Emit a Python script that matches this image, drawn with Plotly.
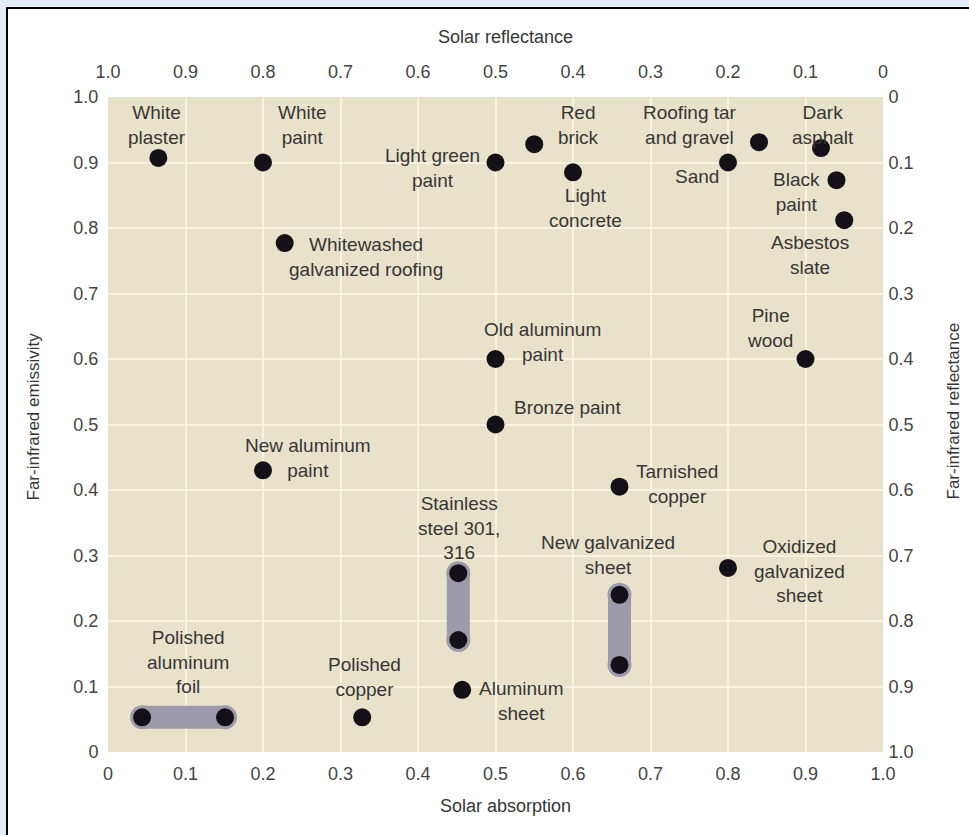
import plotly.graph_objects as go

# ---- data ----
materials = ["White plaster", "White paint", "Whitewashed galvanized roofing", "Light green paint",
             "Red brick", "Light concrete", "Sand", "Roofing tar and gravel", "Dark asphalt",
             "Black paint", "Asbestos slate", "Pine wood", "Old aluminum paint", "Bronze paint",
             "New aluminum paint", "Tarnished copper", "Oxidized galvanized sheet",
             "Aluminum sheet", "Polished copper"]
absorption = [0.065, 0.20, 0.228, 0.50, 0.55, 0.60, 0.80, 0.84, 0.92, 0.94, 0.95, 0.90, 0.50, 0.50,
              0.20, 0.66, 0.80, 0.457, 0.328]
emissivity = [0.907, 0.90, 0.777, 0.90, 0.928, 0.885, 0.90, 0.931, 0.922, 0.873, 0.812, 0.60, 0.60, 0.50,
              0.43, 0.405, 0.281, 0.095, 0.053]

range_names = ["Polished aluminum foil", "Stainless steel 301, 316", "New galvanized sheet"]
range_abs_lo = [0.044, 0.452, 0.66]
range_abs_hi = [0.151, 0.452, 0.66]
range_emi_lo = [0.053, 0.171, 0.133]
range_emi_hi = [0.053, 0.273, 0.240]

tick_vals = [0, 0.1, 0.2, 0.3, 0.4, 0.5, 0.6, 0.7, 0.8, 0.9, 1.0]
tick_up = ["0", "0.1", "0.2", "0.3", "0.4", "0.5", "0.6", "0.7", "0.8", "0.9", "1.0"]
tick_down = ["1.0", "0.9", "0.8", "0.7", "0.6", "0.5", "0.4", "0.3", "0.2", "0.1", "0"]

# label texts and placement (layout)
label_text = ["White<br>plaster", "White<br>paint", "Whitewashed<br>galvanized roofing",
              "Light green<br>paint", "Red<br>brick", "Light<br>concrete", "Sand",
              "Roofing tar<br>and gravel", "Dark<br>asphalt", "Black<br>paint", "Asbestos<br>slate",
              "Pine<br>wood", "Old aluminum<br>paint", "Bronze paint", "New aluminum<br>paint",
              "Tarnished<br>copper", "Oxidized<br>galvanized<br>sheet", "Aluminum<br>sheet",
              "Polished<br>copper", "Polished<br>aluminum<br>foil", "Stainless<br>steel 301,<br>316",
              "New galvanized<br>sheet"]
label_px = [157, 302, 366, 432, 578, 585, 697, 690, 823, 796, 810, 770, 542, 567, 308, 677, 799, 521,
            364, 188, 459, 608]
label_py = [125, 125, 257, 168, 125, 208, 176, 125, 125, 192, 255, 328, 342, 407, 458, 484, 571, 701,
            677, 662, 528, 555]

W, H = 969, 835
L, R, T, B = 108, 883, 97, 752
pw, ph = R - L, B - T

FONT = "Liberation Sans, Arial, sans-serif"
TXT = "#363636"
DOT = "#141018"
CAPS = "#9d9bab"

fig = go.Figure()

# range capsules
for i in range(len(range_names)):
    xs = [range_abs_lo[i], range_abs_hi[i]]
    ys = [range_emi_lo[i], range_emi_hi[i]]
    fig.add_trace(go.Scatter(x=xs, y=ys, mode="lines+markers",
                             line=dict(color=CAPS, width=23),
                             marker=dict(color=CAPS, size=24, line=dict(width=0)),
                             hoverinfo="skip", showlegend=False))
    fig.add_trace(go.Scatter(x=xs, y=ys, mode="markers",
                             marker=dict(color=DOT, size=18, line=dict(width=0)),
                             name=range_names[i], showlegend=False))

fig.add_trace(go.Scatter(x=absorption, y=emissivity, mode="markers", text=materials,
                         marker=dict(color=DOT, size=18, line=dict(width=0)),
                         showlegend=False))

# invisible trace on secondary axes
fig.add_trace(go.Scatter(x=[0, 1], y=[0, 1], xaxis="x2", yaxis="y2", mode="markers",
                         marker=dict(opacity=0), hoverinfo="skip", showlegend=False))

for t, px, py in zip(label_text, label_px, label_py):
    fig.add_annotation(x=(px - L) / pw, y=(B - py) / ph, xref="x", yref="y", text=t,
                       showarrow=False, align="center", xanchor="center", yanchor="middle",
                       font=dict(family=FONT, size=19, color=TXT))

# frame & backgrounds
fig.add_shape(type="rect", xref="paper", yref="paper",
              x0=(7 - L) / pw, x1=(W + 10 - L) / pw, y0=(B - (H + 10)) / ph, y1=(B - 8) / ph,
              fillcolor="white", line=dict(color="black", width=2), layer="below")
fig.add_shape(type="rect", xref="x", yref="y", x0=0, x1=1, y0=0, y1=1,
              fillcolor="#e9e2cb", line=dict(width=0), layer="below")

axis_common = dict(range=[0, 1], tickvals=tick_vals, zeroline=False, automargin=False,
                   ticks="outside", tickcolor="rgba(0,0,0,0)", showline=False,
                   tickfont=dict(family=FONT, size=18, color="#444444"), fixedrange=True)

fig.update_layout(
    width=W, height=H,
    margin=dict(l=L, r=W - R, t=T, b=H - B),
    paper_bgcolor="#e4ecf8",
    plot_bgcolor="rgba(0,0,0,0)",
    xaxis=dict(**axis_common, ticktext=tick_up, ticklen=5, showgrid=True,
               gridcolor="#f8f2df", gridwidth=2),
    yaxis=dict(**axis_common, ticktext=tick_up, ticklen=5, showgrid=True,
               gridcolor="#f8f2df", gridwidth=2),
    xaxis2=dict(**axis_common, ticktext=tick_down, ticklen=11, overlaying="x", side="top",
                showgrid=False),
    yaxis2=dict(**axis_common, ticktext=tick_down, ticklen=1, overlaying="y", side="right",
                showgrid=False),
)

fig.add_annotation(x=0.5, y=1, xref="paper", yref="paper", xshift=10, yshift=60,
                   text="Solar reflectance", xanchor="center", yanchor="middle",
                   showarrow=False, font=dict(family=FONT, size=18, color=TXT))
fig.add_annotation(x=0.5, y=0, xref="paper", yref="paper", xshift=10, yshift=-54,
                   text="Solar absorption", xanchor="center", yanchor="middle",
                   showarrow=False, font=dict(family=FONT, size=18, color=TXT))
fig.add_annotation(x=0, y=0.5, xref="paper", yref="paper", xshift=-75, yshift=8,
                   text="Far-infrared emissivity", textangle=-90, xanchor="center", yanchor="middle",
                   showarrow=False, font=dict(family=FONT, size=17, color=TXT))
fig.add_annotation(x=1, y=0.5, xref="paper", yref="paper", xshift=70, yshift=13,
                   text="Far-infrared reflectance", textangle=-90, xanchor="center", yanchor="middle",
                   showarrow=False, font=dict(family=FONT, size=17, color=TXT))

fig.write_html("out.html",
               config={"displayModeBar": False},
               post_script="document.body.style.margin='0';document.body.style.padding='0';"
                           "document.body.style.overflow='hidden';")
